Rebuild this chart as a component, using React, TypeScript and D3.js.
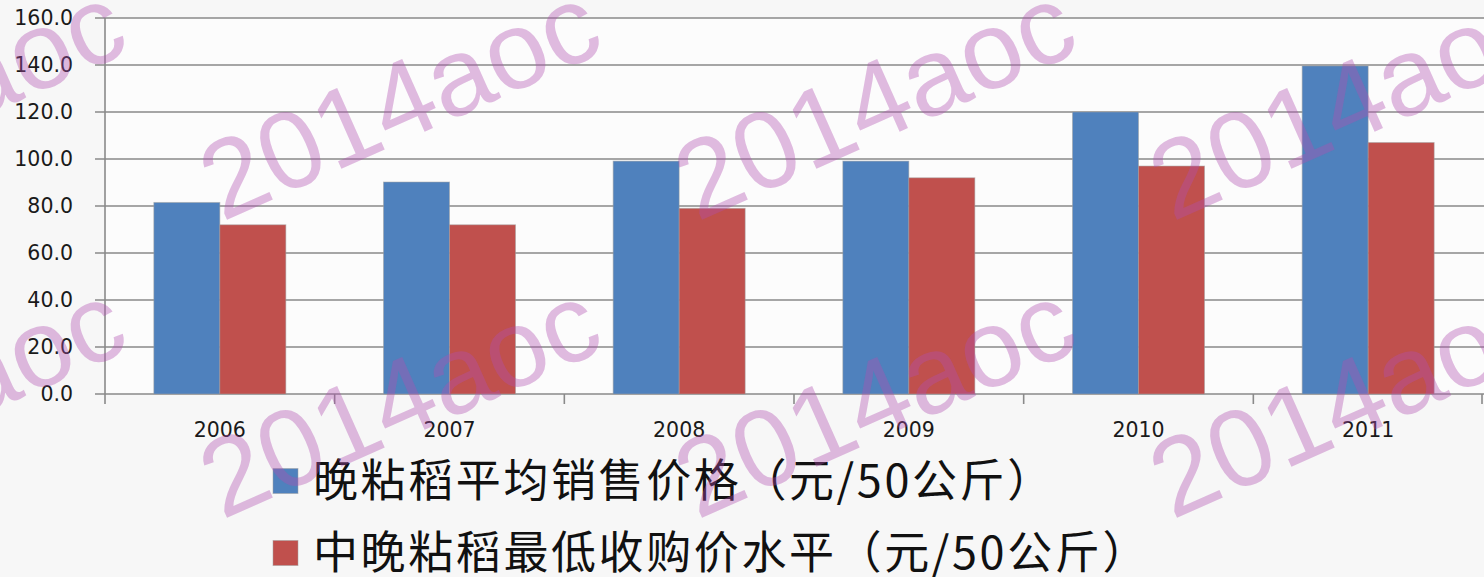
import { useMemo } from "react";
import * as d3 from "d3";

const years = ["2006", "2007", "2008", "2009", "2010", "2011"];
const avgPrice = [81.5, 90.2, 99.1, 99.1, 120.0, 139.6]; // 晚粘稻平均销售价格
const minPrice = [72.0, 72.0, 79.0, 92.0, 97.0, 107.0]; // 中晚粘稻最低收购价水平
const yTicks = [0, 20, 40, 60, 80, 100, 120, 140, 160];
const seriesNames = ["晚粘稻平均销售价格（元/50公斤）", "中晚粘稻最低收购价水平（元/50公斤）"];
const seriesColors = ["#4F81BD", "#C0504D"];
const watermark = "2014aoc";

const W = 1484;
const H = 577;
const margin = { top: 18, right: 1, bottom: 183, left: 105 };

export default function App() {
    const x = useMemo(
        () => d3.scaleBand<string>().domain(years).range([margin.left, W - margin.right]).paddingInner(0).paddingOuter(0),
        []
    );
    const inner = useMemo(
        () => d3.scaleBand<number>().domain([0, 1]).range([0, x.bandwidth()]).paddingInner(0).paddingOuter(0.74),
        [x]
    );
    const y = useMemo(
        () => d3.scaleLinear().domain([0, 160]).range([H - margin.bottom, margin.top]),
        []
    );

    const series = [avgPrice, minPrice];
    const y0 = y(0);

    // watermark tiles
    const tiles: { tx: number; ty: number }[] = [];
    for (let c = -1; c <= 2; c++) {
        for (let r = 0; r <= 1; r++) {
            tiles.push({ tx: 222 + c * 475, ty: 222 + r * 298 });
        }
    }

    return (
        <svg
            width={W}
            height={H}
            style={{ position: "fixed", left: 0, top: 0, display: "block" }}
        >
            <rect x={0} y={0} width={W} height={H} fill="#F7F7F7" />
            <rect x={margin.left} y={margin.top} width={W - margin.left} height={y0 - margin.top} fill="#FCFCFC" />

            {/* gridlines + y ticks */}
            {yTicks.map((t) => (
                <g key={t}>
                    <line x1={95} x2={W} y1={y(t)} y2={y(t)} stroke="#8A8A8A" strokeWidth={1.6} />
                    <text
                        x={73}
                        y={y(t)}
                        dy="0.36em"
                        textAnchor="end"
                        fontFamily="DejaVu Sans"
                        fontSize={20.5}
                        fill="#1A1A1A"
                    >
                        {t.toFixed(1)}
                    </text>
                </g>
            ))}

            {/* y axis line */}
            <line x1={margin.left} x2={margin.left} y1={margin.top} y2={y0} stroke="#8A8A8A" strokeWidth={1.6} />

            {/* x category ticks */}
            {years.map((yr) => (
                <line
                    key={"t" + yr}
                    x1={x(yr) as number}
                    x2={x(yr) as number}
                    y1={y0}
                    y2={y0 + 10}
                    stroke="#8A8A8A"
                    strokeWidth={1.6}
                />
            ))}
            <line x1={W - margin.right - 1} x2={W - margin.right - 1} y1={y0} y2={y0 + 10} stroke="#8A8A8A" strokeWidth={1.6} />

            {/* bars */}
            {series.map((vals, s) =>
                vals.map((v, i) => (
                    <rect
                        key={s + "-" + i}
                        x={(x(years[i]) as number) + (inner(s) as number)}
                        y={y(v)}
                        width={inner.bandwidth()}
                        height={y0 - y(v)}
                        fill={seriesColors[s]}
                        stroke="#A0A0A0"
                        strokeOpacity={0.5}
                        strokeWidth={1}
                    />
                ))
            )}

            {/* x labels */}
            {years.map((yr) => (
                <text
                    key={"l" + yr}
                    x={(x(yr) as number) + x.bandwidth() / 2}
                    y={430}
                    dy="0.36em"
                    textAnchor="middle"
                    fontFamily="DejaVu Sans"
                    fontSize={20.5}
                    fill="#1A1A1A"
                >
                    {yr}
                </text>
            ))}

            {/* legend */}
            {seriesNames.map((name, s) => (
                <g key={name} transform={`translate(273,${481 + s * 72})`}>
                    <rect x={0} y={-12.5} width={25} height={25} fill={seriesColors[s]} stroke="#A0A0A0" strokeOpacity={0.5} />
                    <text
                        x={40}
                        y={0}
                        dy="0.35em"
                        fontFamily="'Noto Sans CJK SC'"
                        fontSize={45}
                        letterSpacing={2.6}
                        fill="#111"
                    >
                        {name}
                    </text>
                </g>
            ))}

            {/* watermark */}
            {tiles.map((t, i) => (
                <text
                    key={"w" + i}
                    transform={`translate(${t.tx},${t.ty}) rotate(-24)`}
                    fontFamily="'Liberation Sans'"
                    fontSize={110}
                    fill="#B050B0"
                    fillOpacity={0.38}
                >
                    {watermark}
                </text>
            ))}
        </svg>
    );
}
